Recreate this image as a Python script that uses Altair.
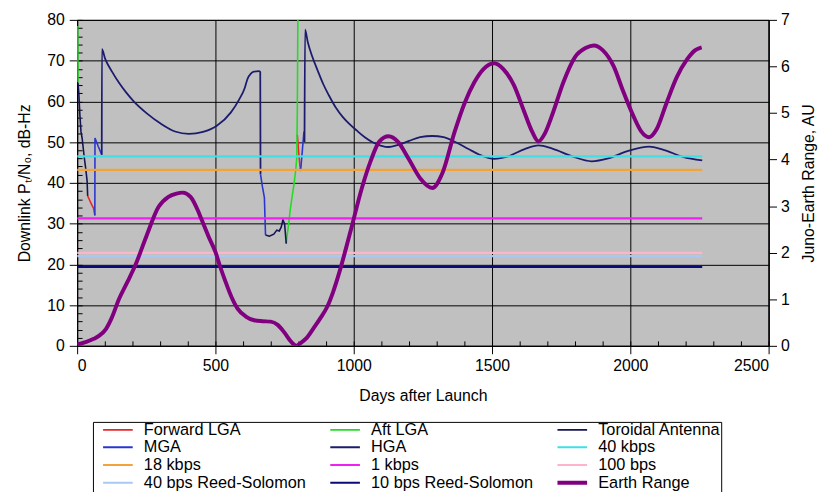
import altair as alt
import pandas as pd

FONT = "Liberation Sans"

SERIES = ["Forward LGA", "Aft LGA", "Toroidal Antenna", "MGA", "HGA",
          "40 kbps", "18 kbps", "1 kbps", "100 bps",
          "40 bps Reed-Solomon", "10 bps Reed-Solomon", "Earth Range"]
COLORS = ["#E8262A", "#22DD22", "#141452", "#2A35D0", "#1C1C6E",
          "#3EE0E6", "#F2A33A", "#F020F0", "#FFB3CC",
          "#A9C9F2", "#0A0A78", "#800080"]

# ---- Downlink Pt/N0 (dB-Hz) pieces: (series, days, values) ----
fwd_a_day = [38, 46, 53, 59, 64]
fwd_a_val = [36.8, 35.6, 34.6, 33.8, 32.0]
fwd_b_day = [796, 801, 806]
fwd_b_val = [51.8, 47.5, 43.7]

aft_a_day = [2, 3]
aft_a_val = [78.5, 64.7]
aft_b_day = [756, 758, 764, 770, 777, 784, 790, 794, 796, 798]
aft_b_val = [25.1, 26.5, 29.5, 33.2, 36.5, 39.7, 43.0, 46.1, 57.5, 80.0]

tor_a_day = [3, 6, 10, 14, 18, 22, 26, 31, 36, 38]
tor_a_val = [64.5, 62.0, 56.5, 52.5, 51.0, 48.5, 46.1, 43.5, 40.5, 36.8]
tor_b_day = [681, 695, 711, 722, 731, 738, 744, 750, 756]
tor_b_val = [27.2, 26.9, 27.4, 28.4, 28.2, 29.2, 30.9, 30.0, 25.1]

mga_a_day = [64, 64.5, 76, 89]
mga_a_val = [32.0, 51.0, 49.0, 46.9]
mga_b_day = [663, 670, 677, 681]
mga_b_val = [42.1, 39.0, 36.4, 27.2]
mga_c_day = [806, 808, 813, 820]
mga_c_val = [43.7, 42.9, 47.0, 52.6]

hga_a_day = [89, 89.5, 101, 126, 152, 177, 202, 253, 303, 354, 404, 455, 505,
             556, 586, 606, 616, 628, 639, 657, 662, 663]
hga_a_val = [46.9, 72.8, 70.5, 67.3, 64.5, 62.2, 60.2, 57.0, 54.5, 52.6, 52.0,
             52.5, 54.0, 57.3, 60.5, 63.3, 65.5, 66.8, 67.3, 67.4, 67.2, 42.1]
hga_b_day = [822, 824, 834, 850, 870, 890, 910, 935, 960, 985, 1010, 1040, 1070,
             1100, 1126, 1160, 1200, 1240, 1284, 1325, 1365, 1415, 1455, 1508,
             1558, 1618, 1668, 1718, 1790, 1860, 1920, 1990, 2068, 2120, 2190, 2260]
hga_b_val = [50.0, 77.6, 74.5, 71.0, 67.5, 64.2, 61.5, 58.5, 56.2, 54.4, 52.9,
             51.2, 49.9, 49.1, 48.8, 49.3, 50.3, 51.2, 51.5, 51.2, 50.1, 48.3,
             46.9, 45.9, 46.5, 48.3, 49.2, 48.4, 46.5, 45.3, 46.0, 47.8, 48.9,
             48.1, 46.4, 45.5]

thr_names = ["40 kbps", "18 kbps", "1 kbps", "100 bps",
             "40 bps Reed-Solomon", "10 bps Reed-Solomon"]
thr_levels = [46.5, 43.2, 31.3, 22.8, 22.0, 19.4]
thr_days = [0, 2260]

# ---- Juno-Earth range (AU) ----
rng_day = [0, 30, 60, 80, 104, 125, 151, 180, 211, 250, 294, 330, 359, 382,
           410, 437, 448, 475, 501, 516, 535, 558, 580, 610, 640, 670, 700,
           725, 750, 775, 792, 805, 830, 855, 880, 905, 925, 950, 970, 991,
           1030, 1060, 1093, 1126, 1160, 1200, 1240, 1284, 1320, 1365, 1400,
           1436, 1470, 1508, 1540, 1579, 1615, 1645, 1668, 1690, 1720, 1758,
           1800, 1840, 1868, 1900, 1940, 1972, 2010, 2040, 2068, 2095, 2130,
           2168, 2205, 2235, 2258]
rng_au = [0.03, 0.08, 0.15, 0.22, 0.36, 0.60, 1.00, 1.35, 1.74, 2.35, 2.98,
          3.20, 3.27, 3.29, 3.20, 2.90, 2.74, 2.35, 2.00, 1.72, 1.40, 1.05,
          0.80, 0.63, 0.55, 0.53, 0.52, 0.45, 0.28, 0.08, 0.00, 0.05, 0.17,
          0.38, 0.60, 0.85, 1.15, 1.62, 2.05, 2.52, 3.40, 3.95, 4.39, 4.50,
          4.38, 4.00, 3.60, 3.39, 3.70, 4.60, 5.20, 5.66, 5.95, 6.07, 5.95,
          5.60, 5.05, 4.60, 4.39, 4.55, 5.00, 5.66, 6.20, 6.40, 6.45, 6.35,
          6.00, 5.50, 4.95, 4.60, 4.48, 4.65, 5.20, 5.77, 6.15, 6.35, 6.41]

# axis ticks
x_major = [0, 500, 1000, 1500, 2000, 2500]
x_minor = list(range(0, 2501, 100))
y_major = list(range(0, 81, 10))
y_minor = list(range(0, 81, 2))
r_major = list(range(0, 8))


def frame(pieces):
    rows = []
    for name, seg, days, vals in pieces:
        for i, (d, v) in enumerate(zip(days, vals)):
            rows.append({"series": name, "seg": seg, "idx": i, "day": d, "val": v})
    return pd.DataFrame(rows)


df_seg = frame([
    ("Forward LGA", "f1", fwd_a_day, fwd_a_val),
    ("Forward LGA", "f2", fwd_b_day, fwd_b_val),
    ("Aft LGA", "a1", aft_a_day, aft_a_val),
    ("Aft LGA", "a2", aft_b_day, aft_b_val),
    ("Toroidal Antenna", "t1", tor_a_day, tor_a_val),
    ("Toroidal Antenna", "t2", tor_b_day, tor_b_val),
    ("MGA", "m1", mga_a_day, mga_a_val),
    ("MGA", "m2", mga_b_day, mga_b_val),
    ("MGA", "m3", mga_c_day, mga_c_val),
])
df_hga = frame([
    ("HGA", "h1", hga_a_day, hga_a_val),
    ("HGA", "h2", hga_b_day, hga_b_val),
])
df_thr = frame([(n, n, thr_days, [lv, lv]) for n, lv in zip(thr_names, thr_levels)])
df_rng = pd.DataFrame({"series": "Earth Range", "day": rng_day, "au": rng_au})

LEG = dict(
    symbolType="stroke", symbolSize=900,
    clipHeight=15.3, rowPadding=0, columnPadding=14, gridAlign="all",
    labelFont=FONT, labelFontSize=16.5, labelColor="#000", labelLimit=300,
    padding=0, strokeColor="#000", fillColor="#FFFFFF",
    symbolOffset=17, labelOffset=18,
)
legend = alt.Legend(title=None, orient="none", legendX=16, legendY=407,
                    columns=3, direction="horizontal", **LEG)
color_enc = alt.Color("series:N", scale=alt.Scale(domain=SERIES, range=COLORS),
                      legend=legend)

x_scale = alt.Scale(domain=[0, 2500], nice=False, zero=False)
x_enc = alt.X("day:Q", scale=x_scale,
              axis=alt.Axis(values=x_major, format="d",
                            title="Days after Launch", grid=True,
                            tickSize=8, labelPadding=4, titlePadding=14))
y_left = alt.Y("val:Q", scale=alt.Scale(domain=[0, 80], nice=False),
               axis=alt.Axis(values=y_major, format="d",
                             title="Downlink Pₜ/N₀, dB-Hz", grid=True,
                             tickSize=8, labelPadding=5, titlePadding=14))

seg_layer = alt.Chart(df_seg).mark_line(strokeWidth=1.6, clip=True).encode(
    x=x_enc, y=y_left, color=color_enc, detail="seg:N", order="idx:Q")
hga_layer = alt.Chart(df_hga).mark_line(strokeWidth=1.8, clip=True,
                                        interpolate="monotone").encode(
    x=x_enc, y=y_left, color=color_enc, detail="seg:N", order="idx:Q")
thr_layer = alt.Chart(df_thr).mark_line(strokeWidth=2.2, clip=True).encode(
    x=x_enc, y=y_left, color=color_enc, detail="seg:N", order="idx:Q")

left = alt.layer(seg_layer, hga_layer, thr_layer)

rng_layer = alt.Chart(df_rng).mark_line(strokeWidth=4, interpolate="monotone",
                                        clip=True).encode(
    x=alt.X("day:Q", scale=x_scale, axis=None),
    y=alt.Y("au:Q", scale=alt.Scale(domain=[0, 7], nice=False),
            axis=alt.Axis(orient="right", values=r_major, format="d",
                          grid=False, title="Juno-Earth Range, AU", tickSize=8,
                          labelPadding=4, titlePadding=12, titleAngle=270,
                          titleBaseline="top")),
    color=color_enc)

# invisible layer that only carries the inward minor tick marks
minor_layer = alt.Chart(df_thr).mark_line(opacity=0).encode(
    x=alt.X("day:Q", scale=x_scale,
            axis=alt.Axis(orient="top", offset=-330, values=x_minor, labels=False,
                          domain=False, grid=False, title=None, tickSize=5)),
    y=alt.Y("val:Q", scale=alt.Scale(domain=[0, 80], nice=False),
            axis=alt.Axis(orient="right", offset=-700, values=y_minor,
                          labels=False, domain=False, grid=False, title=None,
                          tickSize=5)),
    detail="seg:N",
)

chart = alt.layer(left, rng_layer, minor_layer).resolve_scale(
    x="independent", y="independent"
).properties(
    width=700, height=330,
    autosize=alt.AutoSizeParams(type="none"),
    padding={"left": 70, "top": 9, "right": 50, "bottom": 150},
).configure_view(fill="#C0C0C0", stroke="#000", strokeWidth=1).configure_axis(
    labelFont=FONT, titleFont=FONT, labelFontSize=16, titleFontSize=16,
    titleFontWeight="normal", labelColor="#000", titleColor="#000",
    domainColor="#000", tickColor="#000", gridColor="#000", gridOpacity=1,
    gridWidth=1,
).configure_legend(
    symbolStrokeWidth=alt.ExprRef("datum.value === 'Earth Range' ? 4 : 2"),
    **LEG,
)

chart.save("out.html", embed_options={"renderer": "svg", "actions": False})
